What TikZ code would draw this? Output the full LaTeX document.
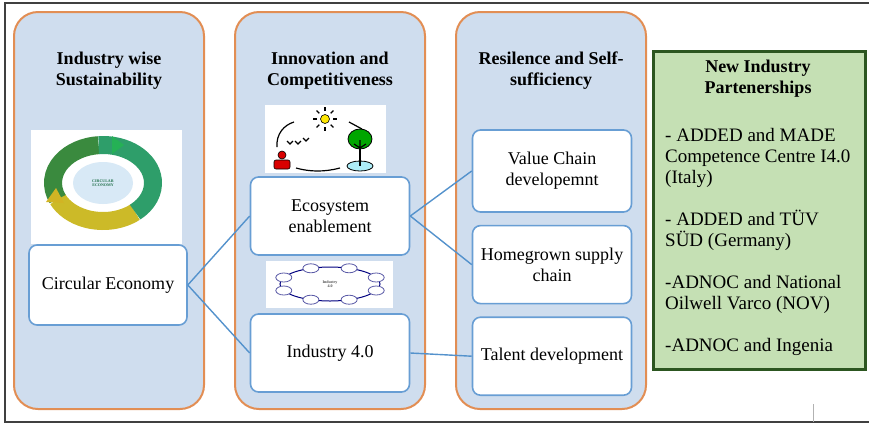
\documentclass[tikz,border=0pt]{standalone}
\usepackage{fontspec}
\setmainfont{LiberationSerif}[Extension=.ttf, UprightFont=*-Regular, BoldFont=*-Bold, ItalicFont=*-Italic, BoldItalicFont=*-BoldItalic]
\usetikzlibrary{positioning}

\definecolor{panelblue}{RGB}{207,221,238}
\definecolor{paneledge}{RGB}{226,142,84}
\definecolor{boxedge}{RGB}{104,158,212}
\definecolor{linkblue}{RGB}{84,146,204}
\definecolor{partnerfill}{RGB}{197,224,180}
\definecolor{partneredge}{RGB}{44,86,32}
\definecolor{ringdark}{RGB}{58,138,62}
\definecolor{ringgreen}{RGB}{46,158,106}
\definecolor{ringyellow}{RGB}{204,186,40}
\definecolor{ringcore}{RGB}{216,233,246}

\begin{document}
\begin{tikzpicture}[x=1pt,y=-1pt,
				panel/.style={rectangle, rounded corners=24pt, draw=paneledge, fill=panelblue, line width=2pt, minimum width=190pt, minimum height=397pt},
				title/.style={align=center, font=\rmfamily\fontsize{18}{21}\selectfont\bfseries},
				wbox/.style={rectangle, rounded corners=8pt, draw=boxedge, fill=white, line width=1.6pt, minimum width=159pt, minimum height=78pt, align=center, font=\rmfamily\fontsize{18}{21}\selectfont},
				link/.style={draw=linkblue, line width=1.4pt},
				icon/.style={fill=white},
				tiny/.style={align=center, inner sep=0pt, font=\rmfamily\fontsize{4}{4.5}\selectfont\bfseries},
				]
				\useasboundingbox (0,0) rectangle (869,424);

				%Frame
				\draw[black!75, line width=1.5pt] (869,3) -- (5,3) -- (5,422) -- (869,422);
				\draw[black!30, line width=0.8pt] (813,404) -- (813,422);

				%Panels
				\node[panel] (sust)  at (109,210.5) {};
				\node[panel] (innov) at (330,210.5) {};
				\node[panel] (resil) at (551,210.5) {};
				\node[rectangle, draw=partneredge, fill=partnerfill, line width=3.5pt, minimum width=212pt, minimum height=318pt] (partners) at (759.5,210.5) {};

				%Titles
				\node[title] (sustTitle)  at (109,71) {Industry wise\\Sustainability};
				\node[title] (innovTitle) at (330,71) {Innovation and\\Competitiveness};
				\node[title] (resilTitle) at (551,71) {Resilence and Self-\\sufficiency};
				\node[title] (partTitle)  at (758,79) {New Industry\\Partenerships};

				%Circular economy ring
				\fill[icon] (31,130) rectangle (182,244);
				\draw[ringyellow, line width=18pt] (103,183) ++(50:50 and 38) arc[start angle=50, end angle=155, x radius=50, y radius=38];
				\draw[ringdark, line width=18pt] (103,183) ++(155:50 and 38) arc[start angle=155, end angle=265, x radius=50, y radius=38];
				\draw[ringgreen, line width=18pt] (103,183) ++(265:50 and 38) arc[start angle=265, end angle=410, x radius=50, y radius=38];
				\fill[ringgreen!80!green] (112,136) -- (124,145) -- (112,154) -- cycle;
				\fill[ringyellow!90!orange] (56,188) -- (46,202) -- (64,203) -- cycle;
				\fill[ringcore] (103,183) ellipse[x radius=30, y radius=21];
				\node[tiny, text=ringgreen!70!black] (ringText) at (103,183) {CIRCULAR\\ECONOMY};

				%Ecosystem icon
				\fill[icon] (265,105) rectangle (386,173);
				\fill[yellow!90!orange, draw=black, line width=0.6pt] (325,119) circle[radius=4.5];
				\foreach \a in {0,45,...,315}
					\draw[line width=1.3pt] (325,119) ++(\a:8) -- ++(\a:4);
				\draw[line width=1.2pt] (277,147) .. controls (276,134) and (284,125) .. (294,122);
				\draw[line width=1.2pt] (349,122) -- (362,129);
				\draw[line width=1.1pt] (287,141) -- (290,144) -- (293,141) (295,141) -- (298,144) -- (301,141) (303,138) -- (306,141) -- (309,138);
				\draw[line width=1.2pt] (296,168) .. controls (310,172) and (325,172) .. (340,168);
				\fill[red!85!black, draw=black, line width=0.6pt] (282,155) circle[radius=4];
				\fill[red!85!black, draw=black, line width=0.6pt, rounded corners=2pt] (274,169) rectangle (290,160);
				\fill[ringcore!80!cyan, draw=black, line width=0.8pt] (360,166) ellipse[x radius=13, y radius=5];
				\draw[line width=1.4pt] (360,141) -- (360,166);
				\fill[green!65!black, draw=black, line width=0.8pt] (360,139) ellipse[x radius=12, y radius=10];
				\draw[line width=1.2pt] (360,140) -- (360,158) (354,144) -- (360,148) -- (366,144);

				%Industry 4.0 icon
				\fill[icon] (266,261) rectangle (393,308);
				\draw[blue!50!black, line width=1pt] (330,284) ellipse[x radius=50, y radius=17];
				\foreach \a in {22.5,67.5,...,337.5}
					\filldraw[fill=white, draw=gray!70!blue, line width=0.8pt] (330,284) ++(\a:50 and 17) ellipse[x radius=8, y radius=4.5];
				\node[tiny, text=black!70] (ringLabel) at (330,284) {Industry\\4.0};

				%Boxes
				\node[wbox, minimum width=158pt, minimum height=80pt] (circ) at (108,285) {Circular Economy};
				\node[wbox] (eco) at (330,216) {Ecosystem\\enablement};
				\node[wbox] (ind) at (330,353) {Industry 4.0};
				\node[wbox, minimum height=82pt] (value) at (552,171) {Value Chain\\developemnt};
				\node[wbox] (home) [below=12pt of value] {Homegrown supply\\chain};
				\node[wbox] (talent) [below=12pt of home] {Talent development};

				%Partnership list
				\node[anchor=north west, align=left, inner sep=0pt, font=\rmfamily\fontsize{19}{21}\selectfont] (partList) at (665,128)
					{- ADDED and MADE\\Competence Centre I4.0\\(Italy)\\[21pt]- ADDED and TÜV\\SÜD (Germany)\\[21pt]-ADNOC and National\\Oilwell Varco (NOV)\\[21pt]-ADNOC and Ingenia};

				%Lines
				\draw[link] (circ.east) -- (eco.west);
				\draw[link] (circ.east) -- (ind.west);
				\draw[link] (eco.east) -- (value.west);
				\draw[link] (eco.east) -- (home.west);
				\draw[link] (ind.east) -- (talent.west);
			\end{tikzpicture}
\end{document}
